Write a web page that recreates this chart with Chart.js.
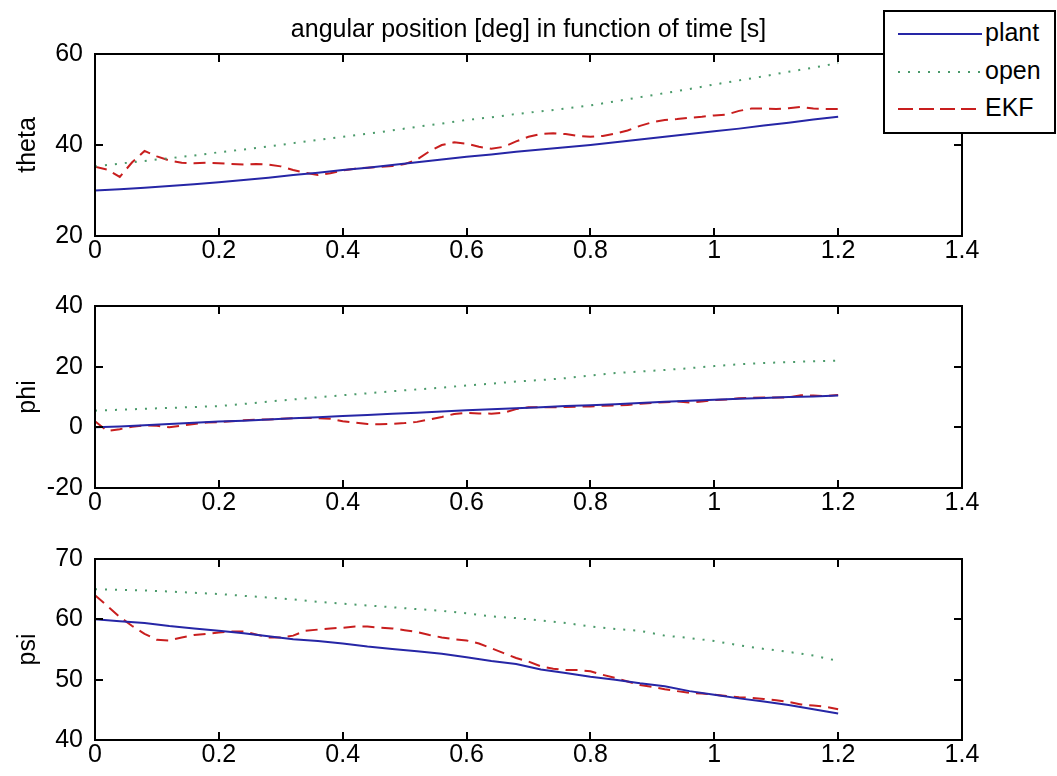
<!DOCTYPE html>
<html>
<head>
<meta charset="utf-8">
<title>angular position</title>
<script src="https://cdn.jsdelivr.net/npm/chart.js@4.4.1/dist/chart.umd.min.js"></script>
<style>
  body { margin: 0; background: #fff; width: 1057px; height: 776px; position: relative; overflow: hidden;
         font-family: "Liberation Sans", Arial, sans-serif; }
  .panel { position: absolute; left: 0; }
  #legend { position: absolute; left: 883px; top: 10px; width: 173px; height: 124px;
            border: 2px solid #000; background: #fff; box-sizing: border-box; }
  #legend .row { position: absolute; left: 0; height: 30px; }
  #legend svg { position: absolute; left: 13px; top: 9px; }
  #legend span { position: absolute; left: 100px; top: -2px; font-size: 25px; line-height: 30px; color: #000; }
</style>
</head>
<body>

<div class="panel" style="top:0"><canvas id="thetaChart" width="1057" height="270"></canvas></div>
<div class="panel" style="top:270px"><canvas id="phiChart" width="1057" height="252"></canvas></div>
<div class="panel" style="top:522px"><canvas id="psiChart" width="1057" height="254"></canvas></div>

<div id="legend">
  <div class="row" style="top:7px">
    <svg width="84" height="12"><line x1="0" y1="6" x2="84" y2="6" stroke="#2626a6" stroke-width="2"/></svg>
    <span>plant</span>
  </div>
  <div class="row" style="top:45px">
    <svg width="84" height="12"><line x1="0" y1="6" x2="84" y2="6" stroke="#4a9a6a" stroke-width="2" stroke-dasharray="2 8"/></svg>
    <span>open</span>
  </div>
  <div class="row" style="top:82px">
    <svg width="84" height="12"><line x1="0" y1="6" x2="84" y2="6" stroke="#c81e1e" stroke-width="2" stroke-dasharray="15 6"/></svg>
    <span>EKF</span>
  </div>
</div>

<script>
// time samples [s]
const timeCoarse = [0, 0.04, 0.08, 0.12, 0.16, 0.2, 0.24, 0.28, 0.32, 0.36, 0.4, 0.44, 0.48, 0.52, 0.56, 0.6,
  0.64, 0.68, 0.72, 0.76, 0.8, 0.84, 0.88, 0.92, 0.96, 1.0, 1.04, 1.08, 1.12, 1.16, 1.2];
const timeFine = [0, 0.02, 0.04, 0.06, 0.08, 0.1, 0.12, 0.14, 0.16, 0.18, 0.2, 0.22, 0.24, 0.26, 0.28, 0.3,
  0.32, 0.34, 0.36, 0.38, 0.4, 0.42, 0.44, 0.46, 0.48, 0.5, 0.52, 0.54, 0.56, 0.58, 0.6, 0.62, 0.64, 0.66,
  0.68, 0.7, 0.72, 0.74, 0.76, 0.78, 0.8, 0.82, 0.84, 0.86, 0.88, 0.9, 0.92, 0.94, 0.96, 0.98, 1.0, 1.02,
  1.04, 1.06, 1.08, 1.1, 1.12, 1.14, 1.16, 1.18, 1.2];

// theta [deg]
const thetaPlant = [30.0, 30.3, 30.6, 31.0, 31.4, 31.8, 32.3, 32.8, 33.4, 33.9, 34.5, 35.0, 35.6, 36.2, 36.8,
  37.4, 37.9, 38.5, 39.0, 39.5, 40.0, 40.6, 41.2, 41.8, 42.4, 43.0, 43.6, 44.3, 44.9, 45.6, 46.2];
const thetaOpen = [35.3, 35.9, 36.5, 37.1, 37.7, 38.4, 39.0, 39.7, 40.4, 41.1, 41.8, 42.5, 43.2, 44.0, 44.7,
  45.5, 46.1, 46.8, 47.4, 48.0, 48.7, 49.6, 50.5, 51.4, 52.3, 53.3, 54.2, 55.1, 56.1, 57.0, 58.0];
const thetaEKF = [35.2, 34.6, 33.0, 36.2, 38.7, 37.5, 36.6, 36.1, 36.0, 36.1, 36.0, 35.8, 35.7, 35.8, 35.7,
  35.3, 34.5, 33.9, 33.4, 33.8, 34.4, 34.8, 35.0, 35.2, 35.4, 35.8, 36.8, 38.6, 40.0, 40.6, 40.3, 39.6, 39.2,
  39.6, 40.8, 41.8, 42.4, 42.6, 42.4, 42.0, 41.8, 42.0, 42.5, 43.2, 44.2, 45.0, 45.5, 45.7, 46.0, 46.2, 46.5,
  46.7, 47.5, 48.0, 48.0, 47.9, 48.1, 48.4, 48.0, 47.9, 47.9];

// phi [deg]
const phiPlant = [0.0, 0.3, 0.7, 1.1, 1.5, 1.9, 2.2, 2.6, 3.0, 3.3, 3.7, 4.1, 4.5, 4.8, 5.2, 5.6, 6.0, 6.3,
  6.6, 7.0, 7.3, 7.6, 8.0, 8.4, 8.8, 9.1, 9.4, 9.7, 10.0, 10.2, 10.5];
const phiOpen = [5.5, 5.8, 6.1, 6.4, 6.7, 7.0, 7.7, 8.5, 9.2, 9.9, 10.6, 11.2, 11.9, 12.5, 13.1, 13.8, 14.4,
  15.1, 15.6, 16.2, 17.1, 17.9, 18.4, 18.9, 19.5, 20.2, 20.8, 21.2, 21.5, 21.8, 22.0];
const phiEKF = [2.0, -1.2, -0.6, 0.2, 0.6, 0.5, 0.0, 0.6, 1.1, 1.6, 1.7, 2.0, 2.3, 2.5, 2.6, 2.8, 3.0, 3.1,
  3.0, 2.8, 2.0, 1.6, 1.1, 1.0, 1.1, 1.4, 1.8, 2.6, 3.4, 4.4, 4.8, 4.6, 4.5, 4.8, 6.0, 6.6, 6.6, 6.6, 6.7,
  6.8, 6.9, 7.1, 7.2, 7.4, 7.8, 8.0, 8.3, 8.5, 8.2, 8.5, 9.0, 9.2, 9.6, 9.7, 9.8, 9.8, 9.9, 10.6, 10.5,
  10.3, 10.7];

// psi [deg]
const psiPlant = [60.0, 59.7, 59.4, 58.9, 58.5, 58.1, 57.7, 57.2, 56.7, 56.4, 56.0, 55.5, 55.1, 54.7, 54.3,
  53.7, 53.1, 52.6, 51.7, 51.1, 50.5, 50.0, 49.4, 48.9, 48.1, 47.5, 46.9, 46.4, 45.8, 45.1, 44.4];
const psiOpen = [65.0, 64.9, 64.8, 64.6, 64.4, 64.2, 63.9, 63.6, 63.3, 62.9, 62.6, 62.3, 62.0, 61.7, 61.4,
  61.0, 60.5, 60.2, 59.8, 59.4, 58.8, 58.4, 58.1, 57.3, 56.9, 56.4, 55.7, 55.1, 54.6, 54.0, 53.1];
const psiEKF = [64.0, 62.2, 60.4, 58.9, 57.6, 56.6, 56.5, 57.0, 57.4, 57.6, 57.8, 58.0, 58.0, 57.5, 57.0,
  57.0, 57.3, 58.1, 58.3, 58.5, 58.6, 58.8, 58.8, 58.6, 58.5, 58.2, 57.9, 57.4, 57.0, 56.7, 56.5, 56.0,
  55.2, 54.4, 53.6, 53.0, 52.2, 51.8, 51.6, 51.6, 51.4, 50.8, 50.3, 49.7, 49.1, 48.8, 48.4, 48.1, 47.8,
  47.7, 47.5, 47.3, 47.1, 47.0, 46.8, 46.6, 46.3, 45.9, 45.7, 45.5, 45.1];

const xTicksMax = 1.4;
const seriesNames = ["plant", "open", "EKF"];

function toPoints(times, values) {
  return values.map((v, i) => ({ x: times[i], y: v }));
}

// black box round the plot area with inward ticks, MATLAB style
const boxPlugin = {
  id: "box",
  afterDraw(chart) {
    const { ctx, chartArea: a, scales } = chart;
    const x = scales.x, y = scales.y;
    ctx.save();
    ctx.strokeStyle = "#000";
    ctx.lineWidth = 2;
    ctx.strokeRect(a.left, a.top, a.right - a.left, a.bottom - a.top);
    ctx.beginPath();
    x.ticks.forEach(t => {
      const px = Math.round(x.getPixelForValue(t.value));
      ctx.moveTo(px, a.bottom); ctx.lineTo(px, a.bottom - 8);
      ctx.moveTo(px, a.top); ctx.lineTo(px, a.top + 8);
    });
    y.ticks.forEach(t => {
      const py = Math.round(y.getPixelForValue(t.value));
      ctx.moveTo(a.left, py); ctx.lineTo(a.left + 8, py);
      ctx.moveTo(a.right, py); ctx.lineTo(a.right - 8, py);
    });
    ctx.stroke();
    ctx.restore();
  }
};

function makePanel(id, label, plant, open, ekf, yMin, yMax, yStep, padding, title) {
  const font = { family: "'Liberation Sans', Arial, sans-serif", size: 25 };
  return new Chart(document.getElementById(id), {
    type: "line",
    data: {
      datasets: [
        { label: seriesNames[0], data: toPoints(timeCoarse, plant), borderColor: "#2626a6",
          borderWidth: 2, pointRadius: 0 },
        { label: seriesNames[1], data: toPoints(timeCoarse, open), borderColor: "#4a9a6a",
          borderWidth: 2, borderDash: [2, 8], pointRadius: 0 },
        { label: seriesNames[2], data: toPoints(timeFine, ekf), borderColor: "#c81e1e",
          borderWidth: 2, borderDash: [12, 7], pointRadius: 0 }
      ]
    },
    options: {
      responsive: false,
      animation: false,
      devicePixelRatio: 1,
      layout: { padding: padding },
      plugins: {
        legend: { display: false },
        tooltip: { enabled: false },
        title: {
          display: !!title,
          text: title,
          fullSize: false,
          color: "#000",
          font: { family: font.family, size: 25, weight: "normal" },
          padding: { top: 15, bottom: 9 }
        }
      },
      scales: {
        x: {
          type: "linear",
          min: 0,
          max: xTicksMax,
          grid: { display: false, drawTicks: false },
          border: { display: false },
          ticks: {
            stepSize: 0.2,
            color: "#000",
            font: font,
            padding: 0,
            maxRotation: 0,
            callback: v => String(Number(v.toFixed(1)))
          },
          afterFit: s => { s.height = 34; }
        },
        y: {
          min: yMin,
          max: yMax,
          grid: { display: false, drawTicks: false },
          border: { display: false },
          ticks: { stepSize: yStep, color: "#000", font: font, padding: 12 },
          title: { display: true, text: label, color: "#000", font: font, padding: { top: 13, bottom: 0 } },
          afterFit: s => { s.width = 95; }
        }
      }
    },
    plugins: [boxPlugin]
  });
}

makePanel("thetaChart", "theta", thetaPlant, thetaOpen, thetaEKF, 20, 60, 20,
  { top: 0, right: 95, bottom: 0, left: 0 }, "angular position [deg] in function of time [s]");
makePanel("phiChart", "phi", phiPlant, phiOpen, phiEKF, -20, 40, 20,
  { top: 36, right: 95, bottom: 0, left: 0 });
makePanel("psiChart", "psi", psiPlant, psiOpen, psiEKF, 40, 70, 10,
  { top: 37, right: 95, bottom: 2, left: 0 });
</script>
</body>
</html>
